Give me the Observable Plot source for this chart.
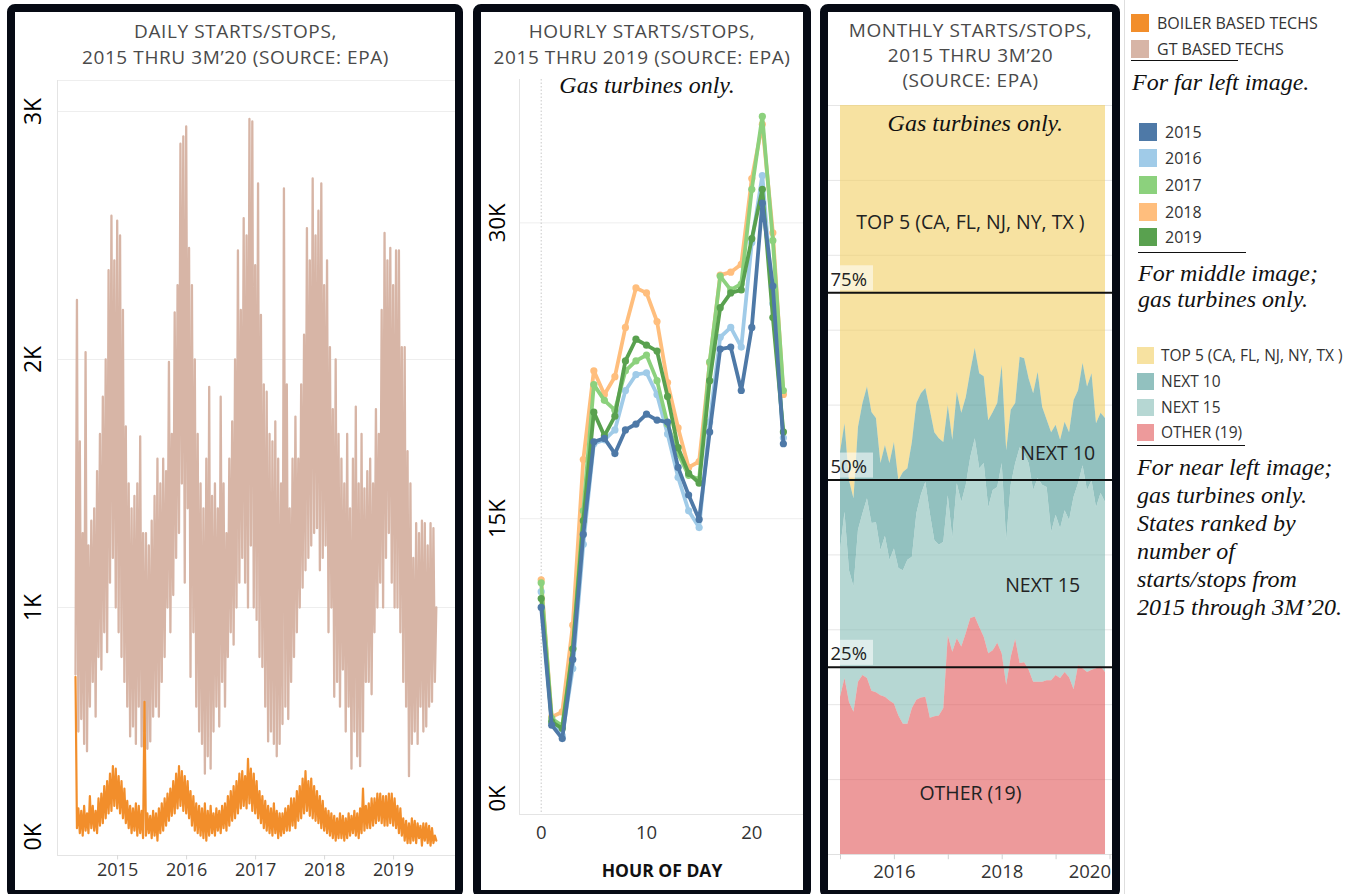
<!DOCTYPE html>
<html><head><meta charset="utf-8">
<script src="https://cdn.jsdelivr.net/npm/d3@7"></script>
<script src="https://cdn.jsdelivr.net/npm/@observablehq/plot@0.6"></script>
<style>
body{margin:0;background:#fff;width:1351px;height:894px;overflow:hidden;position:relative;font-family:"Open Sans",sans-serif;}
.abs{position:absolute;}
.panel{position:absolute;border:8px solid #060a14;border-radius:8px;box-sizing:border-box;}
.title{position:absolute;text-align:center;color:#4a4a4a;font-size:19px;letter-spacing:0.6px;line-height:26px;white-space:nowrap;}
.ital{position:absolute;font-family:"Liberation Serif","Times New Roman",serif;font-style:italic;color:#111;white-space:nowrap;}
.sw{position:absolute;}
.lg{position:absolute;color:#333;white-space:nowrap;line-height:20px;}
.ul{position:absolute;height:0;border-top:1.3px solid #111;}
</style></head><body>
<div id="left" class="abs" style="left:15px;top:70px"></div>
<div id="mid" class="abs" style="left:481px;top:70px"></div>
<div id="right" class="abs" style="left:827px;top:95px"></div>
<script>
const gtStarts = [
730,2240,500,1670, 550,1300,450,2030, 420,1250,600,1350, 700,1400,560,1550,
800,1700,750,1850, 900,2000,820,2360, 1100,2580,1200,2400, 1000,2560,900,2500,
800,2200,700,1730, 600,1500,480,1400, 520,1450,450,1500, 600,1690,440,1300,
500,1300,430,1250, 460,1350,560,1450, 600,1600,560,1500, 700,1600,800,1550,
1000,1990,900,1700, 1050,2190,1200,2300, 1300,2870,1500,2900, 1100,2940,1400,2450,
720,2300,900,2000, 600,1700,500,1500, 450,1400,330,1600, 400,1890,350,1450,
500,1500,600,1400, 520,1850,700,1500, 600,1300,800,1600, 900,1750,850,2000,
1000,2440,1100,2200, 1200,2570,1100,2500, 1000,2970,1250,2960, 1000,2380,950,2710,
800,2180,760,1900, 600,1870,460,1700, 500,1670,450,1750, 400,1600,450,1500,
530,2690,600,1900, 550,1400,700,1600, 800,1770,900,1600, 1000,1900,1080,2100,
1150,2530,1200,2400, 1250,2730,1300,2500, 1320,2600,1150,2710, 1200,2300,1250,2400,
900,2050,1000,1800, 640,2000,700,1700, 600,1600,750,1500, 500,1700,600,1400,
350,1600,500,1810, 400,1500,360,1700, 500,1480,700,1550, 700,1600,650,1500,
900,1800,1000,1700, 1100,2200,1000,2510, 1200,2400,1300,2450, 1100,2300,1000,2440,
1000,2440,900,2050, 700,2050,600,1630, 320,1500,450,1200, 500,1340,450,1300,
600,1350,500,1340, 520,1250,600,1340, 620,1320,700,1000];
const boilerStarts = [
720,110,190,90, 180,80,200,100, 170,90,240,110, 200,100,180,90,
230,120,250,130, 280,150,300,170, 330,180,360,200, 350,190,320,170,
300,150,270,130, 220,110,200,90, 190,100,210,80, 200,90,180,70,
620,80,170,90, 160,70,180,80, 170,60,190,90, 210,100,230,120,
250,140,270,160, 300,170,330,190, 360,200,340,180, 320,170,300,150,
260,120,240,100, 210,90,200,80, 190,70,210,60, 180,80,200,90,
170,80,190,100, 180,90,200,110, 210,100,240,120, 260,140,280,150,
300,170,330,190, 340,200,320,190, 390,210,350,180, 330,170,300,150,
260,130,240,110, 220,100,200,90, 190,80,210,90, 180,70,170,80,
170,90,190,100, 200,100,230,120, 230,110,260,140, 280,150,310,170,
340,180,300,160, 310,150,280,140, 260,130,240,110, 220,100,190,90,
180,80,170,70, 160,60,150,70, 170,70,160,60, 150,70,170,80,
160,90,180,80, 170,70,190,90, 270,100,200,110, 210,110,230,120,
230,130,250,140, 250,130,240,120, 240,120,250,130, 250,120,230,110,
200,90,190,80, 150,60,140,50, 130,50,150,60, 140,50,130,70,
120,40,130,60, 130,50,120,40, 110,50,80,60];
const techNames = ["BOILER BASED TECHS","GT BASED TECHS"];
const techColors = ["#f28e2b","#d7b5a6"];
const leftYearLabels = [2015,2016,2017,2018,2019];
const leftYTicks = [0,1000,2000,3000];

// ---------- MIDDLE: hourly starts/stops ----------
const hoursOfDay = [0,1,2,3,4,5,6,7,8,9,10,11,12,13,14,15,16,17,18,19,20,21,22,23];
const hourly2015 = [10500,4530,3850,7860,14200,18900,19070,18300,19500,19800,20300,20000,19900,17600,16200,14960,19400,23600,23700,21500,24700,31000,26800,18800];
const hourly2016 = [11300,4700,4000,7400,13700,18800,19000,19500,21500,22300,22400,21300,19300,17100,15400,14550,19900,24200,24700,23700,29000,32400,25900,19100];
const hourly2017 = [11750,4870,4500,8400,15400,21800,21000,20500,22500,23000,23300,22000,19800,18300,17200,17000,22950,27300,26600,26900,31700,35400,29100,21500];
const hourly2018 = [11900,4950,5200,9600,18000,22500,21300,22200,24700,26700,26450,25000,21900,19600,17600,17900,22900,27350,27500,27900,32250,35000,29500,21300];
const hourly2019 = [10950,4700,4360,8400,14900,20400,19200,20200,23000,24100,23800,23500,21200,18600,17300,16800,22000,25700,26450,26600,29200,31700,25200,19400];
const yearNames = ["2015","2016","2017","2018","2019"];
const yearColors = ["#4e79a7","#a0cbe8","#8cd17d","#ffbe7d","#59a14f"];
const midXTicks = [0,10,20];
const midYTicks = [0,15000,30000];

// ---------- RIGHT: monthly share of starts/stops by state group (%), Jan 2015 .. ----------
const groupNames = ["TOP 5 (CA, FL, NJ, NY, TX )","NEXT 10","NEXT 15","OTHER (19)"];
const groupColors = ["#f1ce63","#499894","#86bcb6","#e15759"];
const shareTop5 = [46.3,42.5,50.1,52.5,43.0,39.8,37.6,41.0,41.8,47.8,45.4,47.8,45.0,50.1,49.0,48.5,45.0,39.8,38.5,37.8,40.7,43.7,44.5,45.0,40.1,44.7,38.3,41.1,39.0,35.5,32.4,35.8,36.2,42.1,41.0,39.8,34.7,46.1,40.7,39.8,33.6,33.8,36.5,38.5,35.6,40.3,42.0,43.7,42.7,44.7,42.3,43.7,39.4,38.1,34.4,37.6,35.8,42.5,41.1,41.8];
const shareNext10 = [13.1,11.8,12.0,11.8,13.7,14.7,14.9,14.8,13.9,11.6,12.1,12.9,14.2,11.7,13.1,12.2,15.3,14.7,13.5,12.5,13.8,14.4,14.2,13.3,12.0,13.1,12.2,11.9,11.7,11.5,12.1,12.7,11.6,11.6,10.4,11.2,13.1,12.0,10.0,8.0,12.1,12.7,11.3,12.9,14.2,10.4,9.0,13.3,12.0,11.8,11.8,11.7,12.9,12.4,13.7,13.8,14.3,11.2,10.7,11.2];
const shareNext15 = [19.6,22.2,17.6,16.7,20.3,21.6,24.0,22.4,22.7,19.4,21.5,18.8,20.7,19.7,20.5,21.9,20.2,24.9,27.1,28.7,27.3,23.5,22.8,22.2,18.7,15.2,20.7,19.3,19.8,21.5,23.8,21.2,23.2,19.5,21.4,20.8,25.4,19.3,23.0,23.5,28.8,27.9,27.6,25.6,27.2,26.3,25.8,19.8,21.4,20.0,21.6,21.0,25.7,24.3,27.1,24.3,25.3,21.5,23.1,22.7];
const shareOther = [21.0,23.5,20.3,19.0,23.0,23.9,23.5,21.8,21.6,21.2,21.0,20.5,20.1,18.5,17.4,17.4,19.5,20.6,20.9,21.0,18.2,18.4,18.5,19.5,29.2,27.0,28.8,27.7,29.5,31.5,31.7,30.3,29.0,26.8,27.2,28.2,26.8,22.6,26.3,28.7,25.5,25.6,24.6,23.0,23.0,23.0,23.2,23.2,23.9,23.5,24.3,23.6,22.0,25.2,24.8,24.3,24.6,24.8,25.1,24.3];
const rightYearTicks = [2016,2018,2020];
const rightMinorTicks = [2015,2016,2017,2018,2019,2020];
const refLevels = [25,50,75];
const areaLabels = [
  {x:2017.5, y:97.6, text:"Gas turbines only.", italic:true},
  {x:2017.41, y:84.4, text:"TOP 5 (CA, FL, NJ, NY, TX )"},
  {x:2019.03, y:53.5, text:"NEXT 10"},
  {x:2018.75, y:35.9, text:"NEXT 15"},
  {x:2017.41, y:8.1, text:"OTHER (19)"}
];

const FONT = "'Open Sans', sans-serif";
const SERIF = "'Liberation Serif', 'Times New Roman', serif";

// ---- left chart
const dailyRows = [
  ...gtStarts.map((v,i)=>({t:2015+i/48, v, tech:techNames[1]})),
  ...boilerStarts.map((v,i)=>({t:2015+i/48, v, tech:techNames[0]}))
];
const leftChart = Plot.plot({
  width:441, height:819, marginTop:10, marginRight:0, marginBottom:34, marginLeft:42,
  style:{fontFamily:FONT, background:"transparent", overflow:"visible"},
  x:{domain:[2014.739,2020.522], axis:null},
  y:{domain:[0,3125], axis:null},
  color:{domain:techNames, range:techColors},
  marks:[
    Plot.ruleY([1000,2000,3000,3125], {stroke:"#eeeeee"}),
    Plot.ruleX([2014.739], {stroke:"#e4e4e4"}),
    Plot.ruleY([0], {stroke:"#e4e4e4"}),
    Plot.line(dailyRows.filter(d=>d.tech===techNames[1]), {x:"t", y:"v", stroke:"tech", strokeWidth:2.3}),
    Plot.line(dailyRows.filter(d=>d.tech===techNames[0]), {x:"t", y:"v", stroke:"tech", strokeWidth:2.2}),
    Plot.text(leftYTicks.filter(d=>d>0), {y:d=>d, frameAnchor:"left", dx:-24, rotate:-90, textAnchor:"middle", text:d=>d/1000+"K", fontSize:23, fill:"#000"}),
    Plot.text([0], {y:d=>d, frameAnchor:"left", dx:-24, dy:-5, rotate:-90, textAnchor:"start", text:d=>d/1000+"K", fontSize:23, fill:"#000"}),
    Plot.ruleX(leftYearLabels, {x:d=>d+0.61, y1:0, y2:-18, stroke:"#d8d8d8"}),
    Plot.text(leftYearLabels, {x:d=>d+0.61, frameAnchor:"bottom", dy:20, text:d=>String(d), fontSize:18, fill:"#333"})
  ]
});
document.getElementById("left").append(leftChart);

// ---- middle chart
const hourlySeries = [hourly2015,hourly2016,hourly2017,hourly2018,hourly2019];
const hourlyRows = yearNames.flatMap((yr,k)=>hourlySeries[k].map((v,h)=>({hour:hoursOfDay[h], v, year:yr})));
const drawOrder = ["2018","2016","2017","2019","2015"];
const midChart = Plot.plot({
  width:322, height:820, marginTop:9, marginRight:0, marginBottom:76, marginLeft:38,
  style:{fontFamily:FONT, background:"transparent", overflow:"visible"},
  x:{domain:[-2.06,24.91], axis:null},
  y:{domain:[0,37270], axis:null},
  color:{domain:yearNames, range:yearColors},
  marks:[
    Plot.ruleY([15000,30000], {stroke:"#eeeeee"}),
    Plot.ruleY([0], {stroke:"#e4e4e4"}),
    Plot.ruleX([-2.06], {stroke:"#e4e4e4"}),
    Plot.ruleX([0], {stroke:"#c8c8c8", strokeDasharray:"1.5,2"}),
    ...drawOrder.flatMap(yr=>{
      const rows = hourlyRows.filter(d=>d.year===yr);
      return [
        Plot.line(rows, {x:"hour", y:"v", stroke:"year", strokeWidth:3.8}),
        Plot.dot(rows, {x:"hour", y:"v", fill:"year", r:3.6})
      ];
    }),
    Plot.text(midYTicks.filter(d=>d>0), {y:d=>d, frameAnchor:"left", dx:-22, rotate:-90, textAnchor:"middle", text:d=>d/1000+"K", fontSize:22, fill:"#000"}),
    Plot.text([0], {y:d=>d, frameAnchor:"left", dx:-22, dy:-3, rotate:-90, textAnchor:"start", text:d=>d/1000+"K", fontSize:22, fill:"#000"}),
    Plot.text(midXTicks, {x:d=>d, frameAnchor:"bottom", dy:24, text:d=>String(d), fontSize:18.5, fill:"#333"})
  ]
});
document.getElementById("mid").append(midChart);

// ---- right chart
const shareSeries = [shareTop5, shareNext10, shareNext15, shareOther];
const shareRows = groupNames.flatMap((g,k)=>shareSeries[k].map((v,i)=>({t:2015+i/12, v, group:g})));
const rightChart = Plot.plot({
  width:287, height:795, marginTop:10, marginRight:0, marginBottom:36, marginLeft:0,
  style:{fontFamily:FONT, background:"transparent", overflow:"visible"},
  x:{domain:[2015,2020], range:[13,282.5], axis:null},
  y:{domain:[0,100], axis:null},
  color:{domain:groupNames, range:groupColors},
  marks:[
    Plot.ruleY([10,20,30,40,60,70,80,90,100], {stroke:"#e6e6e6"}),
    Plot.areaY(shareRows, Plot.stackY({x:"t", y:"v", fill:"group", fillOpacity:0.6, order:[...groupNames].reverse()})),
    Plot.ruleY([0], {stroke:"#e0e0e0"}),
    Plot.ruleX(rightMinorTicks, {x:d=>d, y1:0, y2:-0.7, stroke:"#d0d0d0"}),
    Plot.rect(refLevels, {y1:d=>d+0.25, y2:d=>d+3.6, fill:"white", fillOpacity:0.55, insetRight:241}),
    Plot.ruleY(refLevels, {stroke:"#111", strokeWidth:2}),
    Plot.text(refLevels, {y:d=>d, frameAnchor:"left", textAnchor:"start", dx:3, dy:-13, text:d=>d+"%", fontSize:18.5, fill:"#222"}),
    Plot.text(areaLabels.filter(d=>!d.italic), {x:"x", y:"y", text:"text", fontSize:19.5, fill:"#222"}),
    Plot.text(areaLabels.filter(d=>d.italic), {x:"x", y:"y", text:"text", fontSize:24, fill:"#111", fontStyle:"italic", fontFamily:SERIF}),
    Plot.text(rightYearTicks.slice(0,-1), {x:d=>d, frameAnchor:"bottom", dy:23, text:d=>String(d), fontSize:18.5, fill:"#333"}),
    Plot.text(rightYearTicks.slice(-1), {x:d=>d, frameAnchor:"bottom", dy:23, dx:1, textAnchor:"end", text:d=>String(d), fontSize:18.5, fill:"#333"})
  ]
});
document.getElementById("right").append(rightChart);

// ---- HTML text, legends
function add(html){ document.body.insertAdjacentHTML("beforeend", html); }
add(`<div class="title" style="left:15px;width:441px;top:18px">DAILY STARTS/STOPS,<br>2015 THRU 3M’20 (SOURCE: EPA)</div>`);
add(`<div class="title" style="left:481px;width:322px;top:18px">HOURLY STARTS/STOPS,<br>2015 THRU 2019 (SOURCE: EPA)</div>`);
add(`<div class="ital" style="left:486px;width:322px;text-align:center;top:72px;font-size:24px;line-height:26px">Gas turbines only.</div>`);
add(`<div class="title" style="left:828px;width:285px;top:18px;line-height:25px">MONTHLY STARTS/STOPS,<br>2015 THRU 3M’20<br>(SOURCE: EPA)</div>`);
add(`<div class="abs" style="left:542px;width:240px;top:859px;text-align:center;font-weight:700;font-size:17.5px;line-height:22px;color:#111">HOUR OF DAY</div>`);
add(`<div class="abs" style="left:1124px;top:0;width:1px;height:894px;background:#dedede"></div>`);
// legend 1
techNames.forEach((n,i)=>{
  const cy = [23,49][i];
  add(`<div class="sw" style="left:1131px;top:${cy-9}px;width:18px;height:18px;background:${techColors[i]}"></div>`);
  add(`<div class="lg" style="left:1157px;top:${cy-10}px;font-size:16px">${n}</div>`);
});
add(`<div class="ul" style="left:1131px;top:60px;width:107px"></div>`);
add(`<div class="ital" style="left:1132px;top:69px;font-size:24px;line-height:26px">For far left image.</div>`);
// legend 2
yearNames.forEach((n,i)=>{
  const cy = [132,158,185,212,237][i];
  add(`<div class="sw" style="left:1139px;top:${cy-9}px;width:18px;height:18px;background:${yearColors[i]}"></div>`);
  add(`<div class="lg" style="left:1165px;top:${cy-10}px;font-size:16px">${n}</div>`);
});
add(`<div class="ul" style="left:1138px;top:252px;width:108px"></div>`);
add(`<div class="ital" style="left:1138px;top:260px;font-size:24px;line-height:26px">For middle image;<br>gas turbines only.</div>`);
// legend 3
groupNames.forEach((n,i)=>{
  const cy = [355,381,407,432][i];
  add(`<div class="sw" style="left:1137px;top:${cy-8.5}px;width:17px;height:17px;background:${groupColors[i]};opacity:0.6"></div>`);
  add(`<div class="lg" style="left:1161px;top:${cy-10}px;font-size:15.5px">${n}</div>`);
});
add(`<div class="ul" style="left:1137px;top:445px;width:108px"></div>`);
add(`<div class="ital" style="left:1137px;top:453px;font-size:24px;line-height:28px">For near left image;<br>gas turbines only.<br>States ranked by<br>number of<br>starts/stops from<br>2015 through 3M’20.</div>`);
// panel frames
add(`<div class="panel" style="left:7px;top:4px;width:456px;height:894px"></div>`);
add(`<div class="panel" style="left:473px;top:4px;width:338px;height:894px"></div>`);
add(`<div class="panel" style="left:820px;top:4px;width:300px;height:894px"></div>`);
</script>
</body></html>
